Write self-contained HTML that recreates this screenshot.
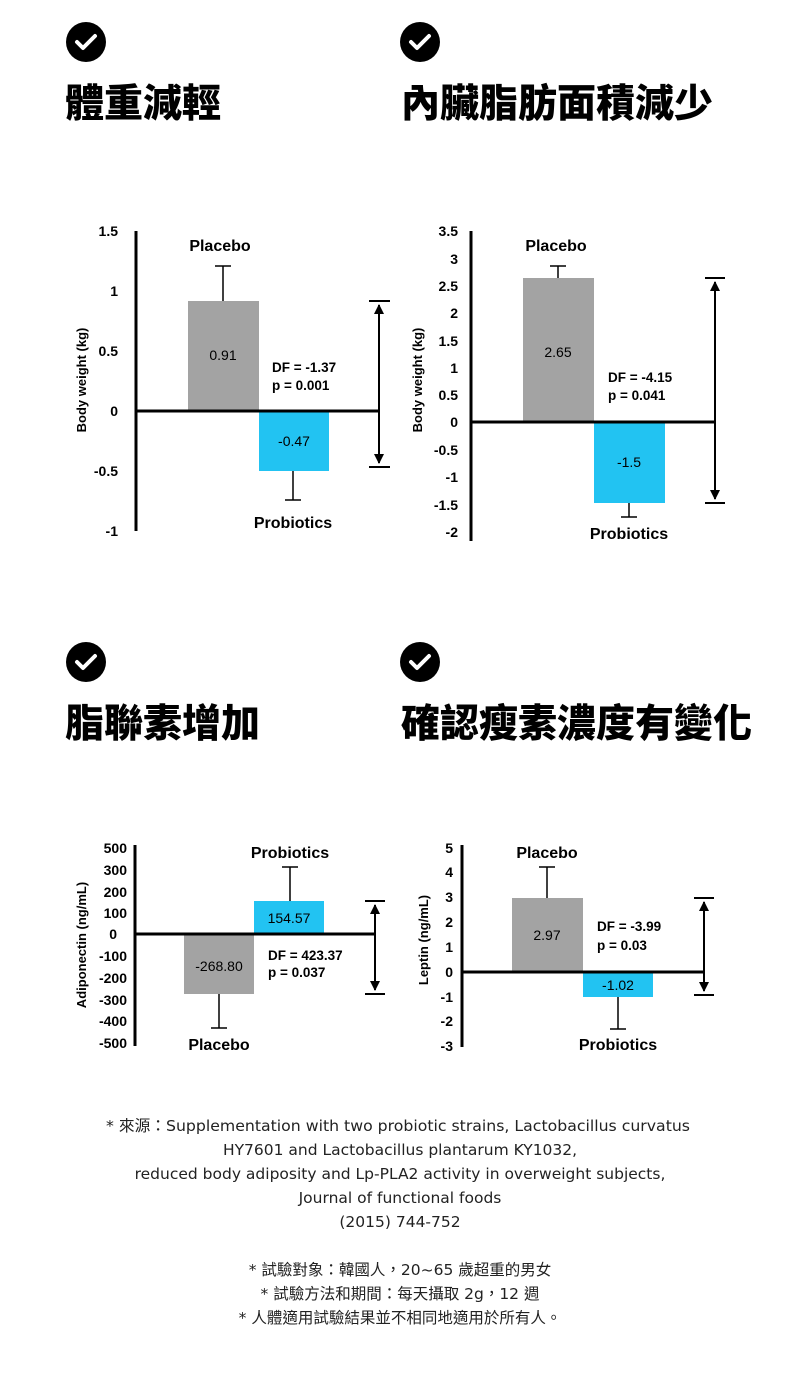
<!DOCTYPE html><html><head><meta charset="utf-8"><style>
body{margin:0;background:#fff;width:800px;height:1379px;overflow:hidden;font-family:"Liberation Sans","Noto Sans CJK TC",sans-serif}
svg{position:absolute;left:0;top:0}
</style></head><body>
<svg width="800" height="1379" viewBox="0 0 800 1379" font-family="Liberation Sans, Noto Sans CJK TC, sans-serif">
<defs>
<g id="chk"><circle r="20" fill="#000"/><path d="M-9,0 L-3,6 L9,-6" stroke="#fff" stroke-width="4" fill="none" stroke-linecap="round" stroke-linejoin="round"/></g>
<marker id="ah" viewBox="0 0 10 10" refX="9" refY="5" markerWidth="5" markerHeight="5" orient="auto-start-reverse"><path d="M0,0L10,5L0,10z" fill="#000"/></marker>
</defs>
<use href="#chk" x="86" y="42"/><use href="#chk" x="420" y="42"/>
<use href="#chk" x="86" y="662"/><use href="#chk" x="420" y="662"/>
<g font-family="Noto Sans CJK TC, sans-serif" font-weight="900" font-size="39" fill="#000">
<text x="65" y="117">體重減輕</text><text x="401" y="117">內臟脂肪面積減少</text>
<text x="65" y="737">脂聯素增加</text><text x="401" y="737">確認瘦素濃度有變化</text>
</g>
<g font-weight="bold" font-size="14" fill="#000" stroke="#000">
<!-- chart1 -->
<g stroke="none" text-anchor="end"><text x="118" y="236">1.5</text><text x="118" y="296">1</text><text x="118" y="356">0.5</text><text x="118" y="416">0</text><text x="118" y="476">-0.5</text><text x="118" y="536">-1</text></g>
<text stroke="none" font-size="13" text-anchor="middle" transform="translate(86,380) rotate(-90)">Body weight (kg)</text>
<rect x="188" y="301" width="71" height="110" fill="#a3a3a3" stroke="none"/>
<rect x="259" y="411" width="70" height="60" fill="#22c3f2" stroke="none"/>
<line x1="223" y1="301" x2="223" y2="266" stroke-width="1.5"/><line x1="215" y1="266" x2="231" y2="266" stroke-width="1.5"/>
<line x1="293" y1="471" x2="293" y2="500" stroke-width="1.5"/><line x1="285" y1="500" x2="301" y2="500" stroke-width="1.5"/>
<line x1="136" y1="231" x2="136" y2="531" stroke-width="3"/><line x1="136" y1="411" x2="380" y2="411" stroke-width="3"/>
<line x1="379" y1="305" x2="379" y2="463" stroke-width="2" marker-start="url(#ah)" marker-end="url(#ah)"/>
<line x1="369" y1="301" x2="390" y2="301" stroke-width="2"/><line x1="369" y1="467" x2="390" y2="467" stroke-width="2"/>
<g stroke="none"><text x="220" y="251" font-size="16" text-anchor="middle">Placebo</text><text x="293" y="528" font-size="16" text-anchor="middle">Probiotics</text>
<text x="223" y="360" font-weight="normal" text-anchor="middle">0.91</text><text x="294" y="446" font-weight="normal" text-anchor="middle">-0.47</text>
<text x="272" y="372" font-weight="bold" font-size="13.5">DF = -1.37</text><text x="272" y="390" font-size="13.5">p = 0.001</text></g>
<!-- chart2 -->
<g stroke="none" text-anchor="end"><text x="458" y="236">3.5</text><text x="458" y="264">3</text><text x="458" y="291">2.5</text><text x="458" y="318">2</text><text x="458" y="346">1.5</text><text x="458" y="373">1</text><text x="458" y="400">0.5</text><text x="458" y="427">0</text><text x="458" y="455">-0.5</text><text x="458" y="482">-1</text><text x="458" y="510">-1.5</text><text x="458" y="537">-2</text></g>
<text stroke="none" font-size="13" text-anchor="middle" transform="translate(422,380) rotate(-90)">Body weight (kg)</text>
<rect x="523" y="278" width="71" height="144" fill="#a3a3a3" stroke="none"/>
<rect x="594" y="422" width="71" height="81" fill="#22c3f2" stroke="none"/>
<line x1="558" y1="278" x2="558" y2="266" stroke-width="1.5"/><line x1="550" y1="266" x2="566" y2="266" stroke-width="1.5"/>
<line x1="629" y1="503" x2="629" y2="517" stroke-width="1.5"/><line x1="621" y1="517" x2="637" y2="517" stroke-width="1.5"/>
<line x1="471" y1="231" x2="471" y2="541" stroke-width="3"/><line x1="471" y1="422" x2="716" y2="422" stroke-width="3"/>
<line x1="715" y1="282" x2="715" y2="499" stroke-width="2" marker-start="url(#ah)" marker-end="url(#ah)"/>
<line x1="705" y1="278" x2="725" y2="278" stroke-width="2"/><line x1="705" y1="503" x2="725" y2="503" stroke-width="2"/>
<g stroke="none"><text x="556" y="251" font-size="16" text-anchor="middle">Placebo</text><text x="629" y="539" font-size="16" text-anchor="middle">Probiotics</text>
<text x="558" y="357" font-weight="normal" text-anchor="middle">2.65</text><text x="629" y="467" font-weight="normal" text-anchor="middle">-1.5</text>
<text x="608" y="382" font-size="13.5">DF = -4.15</text><text x="608" y="400" font-size="13.5">p = 0.041</text></g>
<!-- chart3 -->
<g stroke="none" text-anchor="end"><text x="127" y="853">500</text><text x="127" y="875">300</text><text x="127" y="897">200</text><text x="127" y="918">100</text><text x="117" y="939">0</text><text x="127" y="961">-100</text><text x="127" y="983">-200</text><text x="127" y="1005">-300</text><text x="127" y="1026">-400</text><text x="127" y="1048">-500</text></g>
<text stroke="none" font-size="13" text-anchor="middle" transform="translate(86,945) rotate(-90)">Adiponectin (ng/mL)</text>
<rect x="184" y="934" width="70" height="60" fill="#a3a3a3" stroke="none"/>
<rect x="254" y="901" width="70" height="33" fill="#22c3f2" stroke="none"/>
<line x1="219" y1="994" x2="219" y2="1028" stroke-width="1.5"/><line x1="211" y1="1028" x2="227" y2="1028" stroke-width="1.5"/>
<line x1="290" y1="901" x2="290" y2="867" stroke-width="1.5"/><line x1="282" y1="867" x2="298" y2="867" stroke-width="1.5"/>
<line x1="135" y1="845" x2="135" y2="1046" stroke-width="3"/><line x1="135" y1="934" x2="376" y2="934" stroke-width="3"/>
<line x1="375" y1="905" x2="375" y2="990" stroke-width="2" marker-start="url(#ah)" marker-end="url(#ah)"/>
<line x1="365" y1="901" x2="385" y2="901" stroke-width="2"/><line x1="365" y1="994" x2="385" y2="994" stroke-width="2"/>
<g stroke="none"><text x="290" y="858" font-size="16" text-anchor="middle">Probiotics</text><text x="219" y="1050" font-size="16" text-anchor="middle">Placebo</text>
<text x="289" y="923" font-weight="normal" text-anchor="middle">154.57</text><text x="219" y="971" font-weight="normal" text-anchor="middle">-268.80</text>
<text x="268" y="960" font-size="13.5">DF = 423.37</text><text x="268" y="977" font-size="13.5">p = 0.037</text></g>
<!-- chart4 -->
<g stroke="none" text-anchor="end"><text x="453" y="853">5</text><text x="453" y="877">4</text><text x="453" y="902">3</text><text x="453" y="927">2</text><text x="453" y="952">1</text><text x="453" y="977">0</text><text x="453" y="1002">-1</text><text x="453" y="1026">-2</text><text x="453" y="1051">-3</text></g>
<text stroke="none" font-size="13" text-anchor="middle" transform="translate(428,940) rotate(-90)">Leptin (ng/mL)</text>
<rect x="512" y="898" width="71" height="74" fill="#a3a3a3" stroke="none"/>
<rect x="583" y="972" width="70" height="25" fill="#22c3f2" stroke="none"/>
<line x1="547" y1="898" x2="547" y2="867" stroke-width="1.5"/><line x1="539" y1="867" x2="555" y2="867" stroke-width="1.5"/>
<line x1="618" y1="997" x2="618" y2="1029" stroke-width="1.5"/><line x1="610" y1="1029" x2="626" y2="1029" stroke-width="1.5"/>
<line x1="462" y1="845" x2="462" y2="1047" stroke-width="3"/><line x1="462" y1="972" x2="705" y2="972" stroke-width="3"/>
<line x1="704" y1="902" x2="704" y2="991" stroke-width="2" marker-start="url(#ah)" marker-end="url(#ah)"/>
<line x1="694" y1="898" x2="714" y2="898" stroke-width="2"/><line x1="694" y1="995" x2="714" y2="995" stroke-width="2"/>
<g stroke="none"><text x="547" y="858" font-size="16" text-anchor="middle">Placebo</text><text x="618" y="1050" font-size="16" text-anchor="middle">Probiotics</text>
<text x="547" y="940" font-weight="normal" text-anchor="middle">2.97</text><text x="618" y="990" font-weight="normal" text-anchor="middle">-1.02</text>
<text x="597" y="931" font-size="13.5">DF = -3.99</text><text x="597" y="950" font-size="13.5">p = 0.03</text></g>
</g>
<g fill="#222" text-anchor="middle" font-family="DejaVu Sans, Noto Sans CJK TC, sans-serif" font-size="15.5">
<text x="398" y="1131" textLength="584" lengthAdjust="spacingAndGlyphs">* 來源：Supplementation with two probiotic strains, Lactobacillus curvatus</text>
<text x="400" y="1155">HY7601 and Lactobacillus plantarum KY1032,</text>
<text x="400" y="1179">reduced body adiposity and Lp-PLA2 activity in overweight subjects,</text>
<text x="400" y="1203">Journal of functional foods</text>
<text x="400" y="1227">(2015) 744-752</text>
<text x="400" y="1275">* 試驗對象：韓國人，20~65 歲超重的男女</text>
<text x="400" y="1299">* 試驗方法和期間：每天攝取 2g，12 週</text>
<text x="400" y="1323">* 人體適用試驗結果並不相同地適用於所有人。</text>
</g>
</svg>
</body></html>
